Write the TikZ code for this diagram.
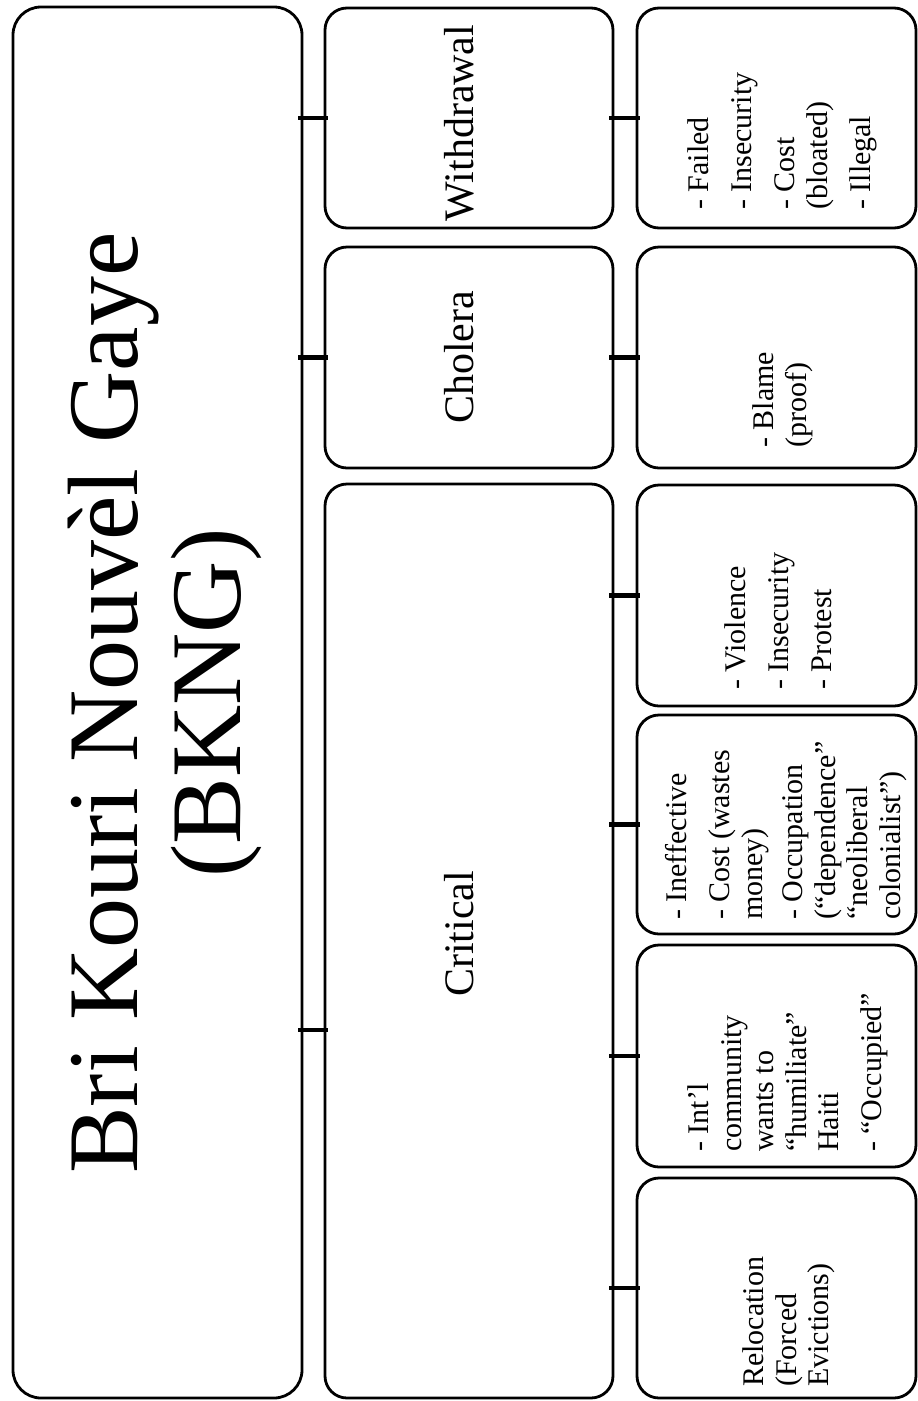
\documentclass[tikz,border=0pt]{standalone}
\usepackage{fontspec}
\setmainfont{Liberation Serif}
\begin{document}
\begin{tikzpicture}[x=1pt,y=-1pt,
  box/.style={draw, line width=2.8pt, rounded corners=22pt, inner sep=0pt},
  conn/.style={line width=4.2pt, shorten <=-5pt, shorten >=-4pt},
  titletext/.style={rotate=90, align=center, inner sep=0pt, font=\fontsize{100}{103}\selectfont},
  headtext/.style={rotate=90, inner sep=0pt, anchor=base, font=\fontsize{42}{46}\selectfont},
  itemtext/.style={rotate=90, align=left, inner sep=0pt, anchor=north west, font=\fontsize{30}{32.5}\selectfont}]
\useasboundingbox (0,0) rectangle (918,1401);
% boxes
\node[box, rounded corners=28pt, minimum width=289pt, minimum height=1391pt] (big) at (157.5,702.5) {};
\node[box, minimum width=288pt, minimum height=220pt] (wd) at (469,118) {};
\node[box, minimum width=288pt, minimum height=221pt] (ch) at (469,357.5) {};
\node[box, minimum width=288pt, minimum height=914pt] (cr) at (469,941) {};
\node[box, minimum width=279pt, minimum height=220pt] (f1) at (776.5,118) {};
\node[box, minimum width=279pt, minimum height=221pt] (f2) at (776.5,357.5) {};
\node[box, minimum width=279pt, minimum height=221pt] (f3) at (776.5,595.5) {};
\node[box, minimum width=279pt, minimum height=219pt] (f4) at (776.5,824.5) {};
\node[box, minimum width=279pt, minimum height=222pt] (f5) at (776.5,1056) {};
\node[box, minimum width=279pt, minimum height=220pt] (f6) at (776.5,1288) {};
% texts
\node[titletext] (tt) at (165,703) {Bri Kouri Nouvèl Gaye\\(BKNG)};
\node[headtext] (twd) at (473,123) {Withdrawal};
\node[headtext] (tch) at (473,357.5) {Cholera};
\node[headtext] (tcr) at (473,934) {Critical};
\node[itemtext] (t1) at (687.5,210) {- Failed\\[10.5pt]- Insecurity\\[10.5pt]- Cost\\(bloated)\\[10.5pt]- Illegal};
\node[itemtext] (t2) at (752.5,448) {- Blame\\(proof)};
\node[itemtext] (t3) at (724.5,690) {- Violence\\[10.5pt]- Insecurity\\[10.5pt]- Protest};
\node[itemtext] (t4) at (665.5,920) {- Ineffective\\[10.5pt]- Cost (wastes\\money)\\[8pt]- Occupation\\(“dependence”\\“neoliberal\\colonialist”)};
\node[itemtext] (t5) at (687.5,1152) {- Int’l\\community\\wants to\\“humiliate”\\Haiti\\[10.5pt]- “Occupied”};
\node[itemtext] (t6) at (742.5,1387) {Relocation\\(Forced\\Evictions)};
% connectors
\coordinate (ccr) at (0,1030);
\draw[conn] (big.east |- wd.west) -- (wd.west);
\draw[conn] (big.east |- ch.west) -- (ch.west);
\draw[conn] (big.east |- ccr) -- (cr.west |- ccr);
\draw[conn] (wd.east) -- (f1.west);
\draw[conn] (ch.east) -- (f2.west);
\draw[conn] (cr.east |- f3.west) -- (f3.west);
\draw[conn] (cr.east |- f4.west) -- (f4.west);
\draw[conn] (cr.east |- f5.west) -- (f5.west);
\draw[conn] (cr.east |- f6.west) -- (f6.west);
\end{tikzpicture}
\end{document}
